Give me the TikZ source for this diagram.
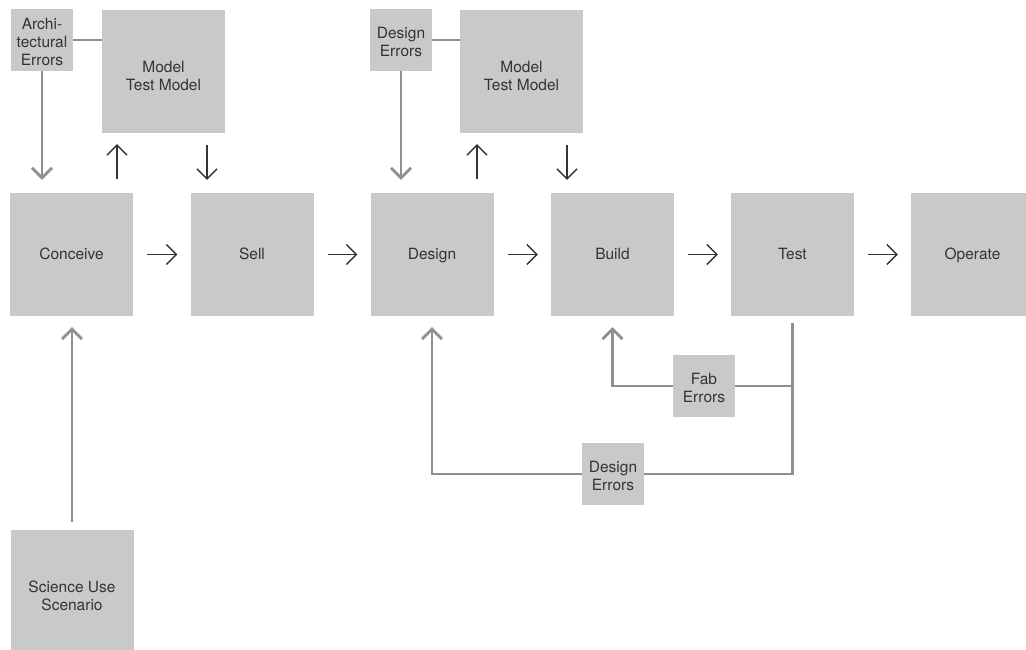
\documentclass[tikz,border=0pt]{standalone}
\usepackage{fontspec}
\setmainfont{TeX Gyre Heros}
\usetikzlibrary{arrows.meta}
\definecolor{boxgray}{HTML}{C8C9CB}
\definecolor{errgray}{HTML}{8E9093}
\definecolor{txtgray}{HTML}{333333}
\tikzset{
	stage/.style={fill=boxgray,text=txtgray,minimum width=123pt,minimum height=123pt,inner sep=0pt,align=center,font=\fontsize{15.5}{18}\selectfont,execute at begin node={\rule{0pt}{#1}},execute at end node={\rule[-4.5pt]{0pt}{4.5pt}}},
	stage/.default=14.5pt,
	errbox/.style={stage=#1,minimum width=62pt,minimum height=62pt},
	errbox/.default=36.5pt,
	flow/.style={draw=txtgray,line width=1.4pt,-{Straight Barb[length=10pt,width=20pt]}},
	err/.style={draw=errgray,line width=2.8pt},
	errarr/.style={err,-{Straight Barb[length=10pt,width=20pt]}}
}
\begin{document}
\begin{tikzpicture}[x=1pt,y=-1pt]
	\useasboundingbox(0,0)rectangle(1026,649);
	\clip(0,0)rectangle(1026,649);
	\node[stage](conceive)at(71.5,254.5){Conceive};
	\node[stage](sell)at(252,254.5){Sell};
	\node[stage](design)at(432,254.5){Design};
	\node[stage](build)at(612.5,254.5){Build};
	\node[stage](test)at(792.5,254.5){Test};
	\node[stage](operate)at(972.5,254.5){Operate};
	\node[stage=41.5pt](model1)at(163.5,71.5){Model\\Test Model};
	\node[stage=41.5pt](model2)at(521.5,71.5){Model\\Test Model};
	\node[stage=41.5pt](science)at(72,591.5){Science Use\\Scenario};
	\node[errbox=54.5pt](archerr)at(42,40){Archi-\\tectural\\Errors};
	\node[errbox](deserr)at(401,40){Design\\Errors};
	\node[errbox](faberr)at(704,386){Fab\\Errors};
	\node[errbox](deserr2)at(613,474){Design\\Errors};
	\foreach \a/\b in {conceive/sell,sell/design,design/build,build/test,test/operate}
		\draw[flow,shorten <=14pt,shorten >=13pt](\a.east)--(\b.west);
	\draw[flow,shorten <=14pt,shorten >=11pt](conceive.north -| 117,0)--(model1.south -| 117,0);
	\draw[flow,shorten <=12pt,shorten >=13pt](model1.south -| 207,0)--(sell.north -| 207,0);
	\draw[flow,shorten <=14pt,shorten >=11pt](design.north -| 477,0)--(model2.south -| 477,0);
	\draw[flow,shorten <=12pt,shorten >=13pt](model2.south -| 567,0)--(build.north -| 567,0);
	\draw[err](archerr.east)--(archerr.east -| model1.west);
	\draw[err](deserr.east)--(deserr.east -| model2.west);
	\draw[errarr,shorten >=13pt](archerr.south)--(archerr.south |- conceive.north);
	\draw[errarr,shorten >=13pt](deserr.south)--(deserr.south |- design.north);
	\draw[errarr,shorten <=8pt,shorten >=11pt](science.north -| 72,0)--(conceive.south -| 72,0);
	\draw[err,shorten <=7pt](test.south)--(test.south |- deserr2.east)--(deserr2.east);
	\draw[err](test.south |- faberr.east)--(faberr.east);
	\draw[errarr,shorten >=11pt](faberr.west)-|(build.south);
	\draw[errarr,shorten >=11pt](deserr2.west)-|(design.south);
\end{tikzpicture}
\end{document}
